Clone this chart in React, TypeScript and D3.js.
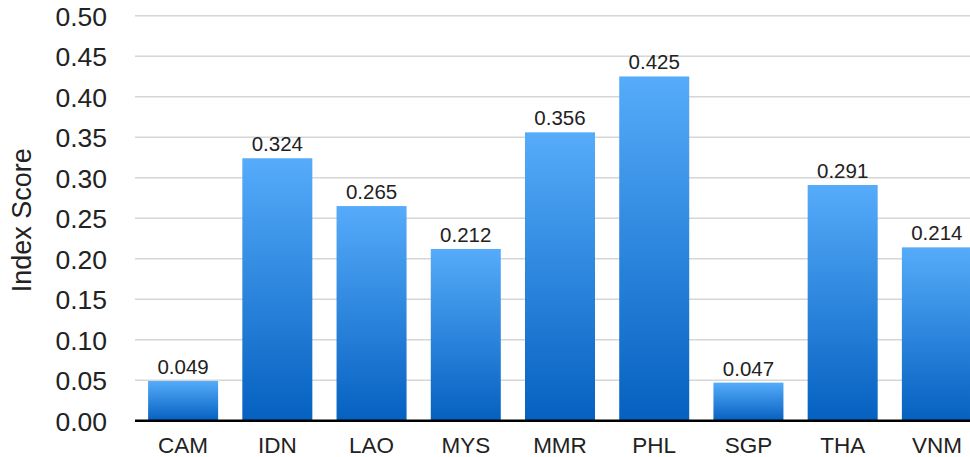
import * as d3 from "d3";

const categories = ["CAM", "IDN", "LAO", "MYS", "MMR", "PHL", "SGP", "THA", "VNM"];
const scores = [0.049, 0.324, 0.265, 0.212, 0.356, 0.425, 0.047, 0.291, 0.214];
const yTicks = [0, 0.05, 0.1, 0.15, 0.2, 0.25, 0.3, 0.35, 0.4, 0.45, 0.5];
const yLabel = "Index Score";

const width = 970;
const height = 457;
const font = "'Helvetica Neue', Helvetica, 'Liberation Sans', Arial, sans-serif";

export default function App() {
    const x = d3.scaleBand<string>()
        .domain(categories)
        .range([136, 984])
        .paddingInner(0.257)
        .paddingOuter(0.1285);

    const y = d3.scaleLinear()
        .domain([0, 0.5])
        .range([420.7, 15.7]);

    const fmt = d3.format(".2f");

    return (
        <svg
            width={width}
            height={height}
            style={{ position: "absolute", left: 0, top: 0, fontFamily: font }}
        >
            <defs>
                <linearGradient id="barFill" x1="0" y1="0" x2="0" y2="1">
                    <stop offset="0%" stopColor="#56acfa" />
                    <stop offset="100%" stopColor="#0560c0" />
                </linearGradient>
            </defs>

            {/* gridlines + tick labels */}
            <g>
                {yTicks.map(t => (
                    <g key={t}>
                        {t > 0 && (
                            <line
                                x1={135}
                                x2={width}
                                y1={y(t)}
                                y2={y(t)}
                                stroke="#d6d6d6"
                                strokeWidth={1.5}
                            />
                        )}
                        <text
                            x={107}
                            y={y(t)}
                            dy="0.38em"
                            textAnchor="end"
                            fontSize={26.5}
                            fill="#222"
                        >
                            {fmt(t)}
                        </text>
                    </g>
                ))}
            </g>

            <text
                transform={`translate(31,${(y(0) + y(0.5)) / 2 + 2}) rotate(-90)`}
                textAnchor="middle"
                fontSize={27}
                fill="#222"
            >
                {yLabel}
            </text>

            {/* bars */}
            <g>
                {categories.map((c, i) => (
                    <g key={c}>
                        <rect
                            x={x(c)}
                            y={y(scores[i])}
                            width={x.bandwidth()}
                            height={y(0) - y(scores[i])}
                            fill="url(#barFill)"
                        />
                        <text
                            x={(x(c) ?? 0) + x.bandwidth() / 2}
                            y={y(scores[i]) - 7}
                            textAnchor="middle"
                            fontSize={20.5}
                            fill="#222"
                        >
                            {scores[i].toFixed(3)}
                        </text>
                        <text
                            x={(x(c) ?? 0) + x.bandwidth() / 2}
                            y={453}
                            textAnchor="middle"
                            fontSize={22.5}
                            fill="#222"
                        >
                            {c}
                        </text>
                    </g>
                ))}
            </g>

            <line x1={135} x2={width} y1={y(0)} y2={y(0)} stroke="#000" strokeWidth={2.5} />
        </svg>
    );
}
